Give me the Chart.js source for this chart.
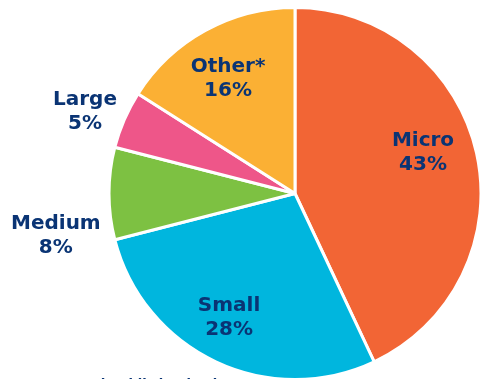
<!DOCTYPE html>
<html>
<head>
<meta charset="utf-8">
<script src="https://cdn.jsdelivr.net/npm/chart.js@4.4.0/dist/chart.umd.min.js"></script>
<style>
    html, body { margin: 0; padding: 0; background: #fff; overflow: hidden; }
    canvas { display: block; }
</style>
</head>
<body>
<canvas id="chart" width="481" height="379"></canvas>
<script>
// slice data, clockwise from 12 o'clock
const categories = ['Micro', 'Small', 'Medium', 'Large', 'Other*']
const shares = [43, 28, 8, 5, 16]
const colors = ['#F26535', '#00B6DE', '#7DC142', '#EE5689', '#FBB034']

// where each label sits: fraction of radius, and nudge off the mid angle (deg)
const labelDist = [0.722, 0.755, 1.306, 1.211, 0.714]
const labelShift = [-5, 2.8, -10.1, -2.2, -1.5]

const navy = '#0A3474'
const labelFont = 'bold 20px "DejaVu Sans", Verdana, sans-serif'

const sliceLabels = {
    id: 'sliceLabels',
    afterDatasetsDraw(chart) {
        const ctx = chart.ctx
        const meta = chart.getDatasetMeta(0)
        ctx.save()
        ctx.font = labelFont
        ctx.fillStyle = navy
        ctx.textAlign = 'center'
        ctx.textBaseline = 'middle'
        meta.data.forEach((arc, i) => {
            const p = arc.getProps(['x', 'y', 'startAngle', 'endAngle', 'outerRadius'], true)
            const mid = (p.startAngle + p.endAngle) / 2 + labelShift[i] * Math.PI / 180
            const r = p.outerRadius * labelDist[i]
            const cx = p.x + Math.cos(mid) * r
            const cy = p.y + Math.sin(mid) * r
            ctx.fillText(categories[i], cx, cy - 12)
            ctx.fillText(shares[i] + '%', cx, cy + 12)
        })
        // footnote, mostly cut off by the bottom edge
        ctx.textAlign = 'left'
        ctx.textBaseline = 'alphabetic'
        ctx.font = 'bold 13px "DejaVu Sans", Verdana, sans-serif'
        ctx.fillText('and public institutions', 78, 388)
        ctx.restore()
    }
}

const ctx = document.getElementById('chart')
new Chart(ctx, {
    type: 'pie',
    data: {
        labels: categories,
        datasets: [{
            data: shares,
            backgroundColor: colors,
            borderColor: '#ffffff',
            borderWidth: 3,
            clip: false
        }]
    },
    options: {
        responsive: false,
        animation: false,
        radius: 186,
        layout: {
            padding: { left: 109, right: 0, top: 8, bottom: 0 }
        },
        plugins: {
            legend: { display: false },
            tooltip: { enabled: false }
        }
    },
    plugins: [sliceLabels]
})
</script>
</body>
</html>
